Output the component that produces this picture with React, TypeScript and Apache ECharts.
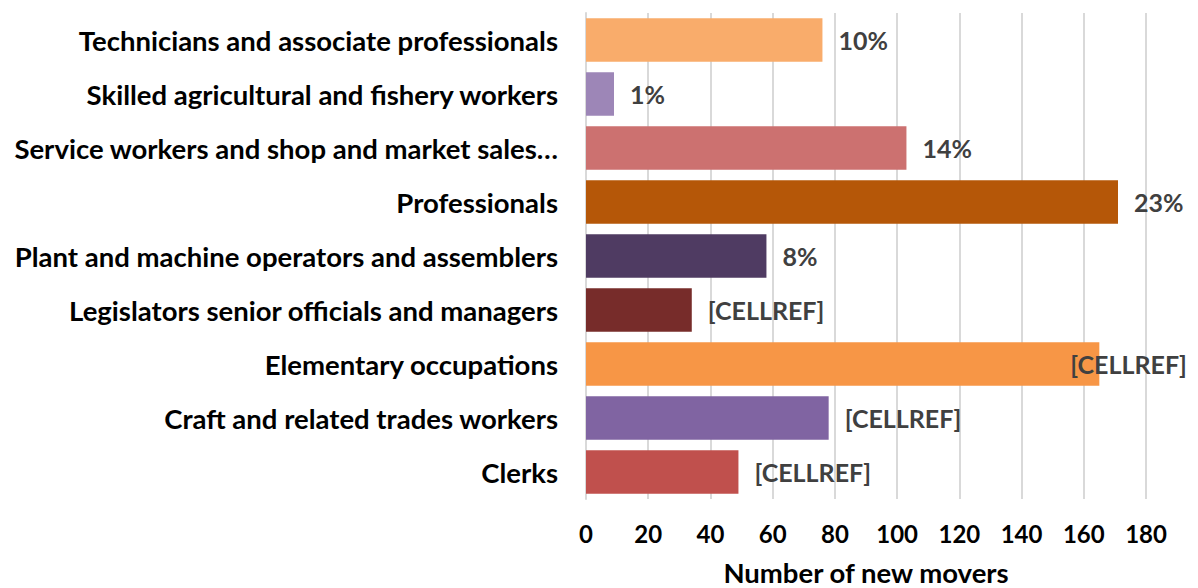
import React, { useEffect, useRef } from "react";
import * as echarts from "echarts";

const categories = [
  "Technicians and associate professionals",
  "Skilled agricultural and fishery workers",
  "Service workers and shop and market sales…",
  "Professionals",
  "Plant and machine operators and assemblers",
  "Legislators senior officials and managers",
  "Elementary occupations",
  "Craft and related trades workers",
  "Clerks",
];
const values = [76, 9, 103, 171, 58, 34, 165, 78, 49];
const dataLabels = ["10%", "1%", "14%", "23%", "8%", "[CELLREF]", "[CELLREF]", "[CELLREF]", "[CELLREF]"];
const colors = ["#F9AC6B", "#9D86B7", "#CC7170", "#B55708", "#4F3B62", "#772C2A", "#F79646", "#8064A2", "#C0504D"];
const labelOffsets = [0, 0, 0, 0, 0, 0, -45, 0, 0];
const tickMin = 0;
const tickMax = 180;
const tickStep = 20;

const FONT = "Lato";

export default function App() {
  const ref = useRef<HTMLDivElement>(null);
  useEffect(() => {
    const chart = echarts.init(ref.current!, null, { renderer: "svg" });
    chart.setOption({
      animation: false,
      grid: { left: 586, right: 52, top: 13, bottom: 89, containLabel: false, outerBoundsMode: "none" },
      xAxis: {
        type: "value",
        min: tickMin,
        max: tickMax,
        interval: tickStep,
        axisLine: { show: false },
        axisTick: { show: false },
        splitLine: { show: true, lineStyle: { color: "#D9D9D9", width: 2 } },
        axisLabel: {
          margin: 22,
          color: "#000",
          fontFamily: FONT,
          fontWeight: "bold",
          fontSize: 24,
        },
        name: "Number of new movers",
        nameLocation: "middle",
        nameGap: 59,
        nameTextStyle: { color: "#000", fontFamily: FONT, fontWeight: "bold", fontSize: 27.5 },
      },
      yAxis: {
        type: "category",
        inverse: true,
        data: categories,
        axisLine: { show: true, lineStyle: { color: "#D9D9D9", width: 2 } },
        axisTick: { show: false },
        axisLabel: {
          margin: 28,
          color: "#000",
          fontFamily: FONT,
          fontWeight: "bold",
          fontSize: 27.5,
        },
      },
      series: [
        {
          type: "bar",
          barCategoryGap: "19%",
          data: values.map((v, i) => ({
            value: v,
            itemStyle: { color: colors[i] },
            label: {
              show: true,
              position: "right",
              distance: 16,
              offset: [labelOffsets[i], 0],
              formatter: () => dataLabels[i],
              color: "#404040",
              fontFamily: FONT,
              fontWeight: "bold",
              fontSize: 25,
            },
          })),
        },
      ],
    });
    return () => chart.dispose();
  }, []);
  return (
    <div
      ref={ref}
      style={{ position: "fixed", left: 0, top: 0, width: 1198, height: 588, background: "#fff" }}
    />
  );
}
